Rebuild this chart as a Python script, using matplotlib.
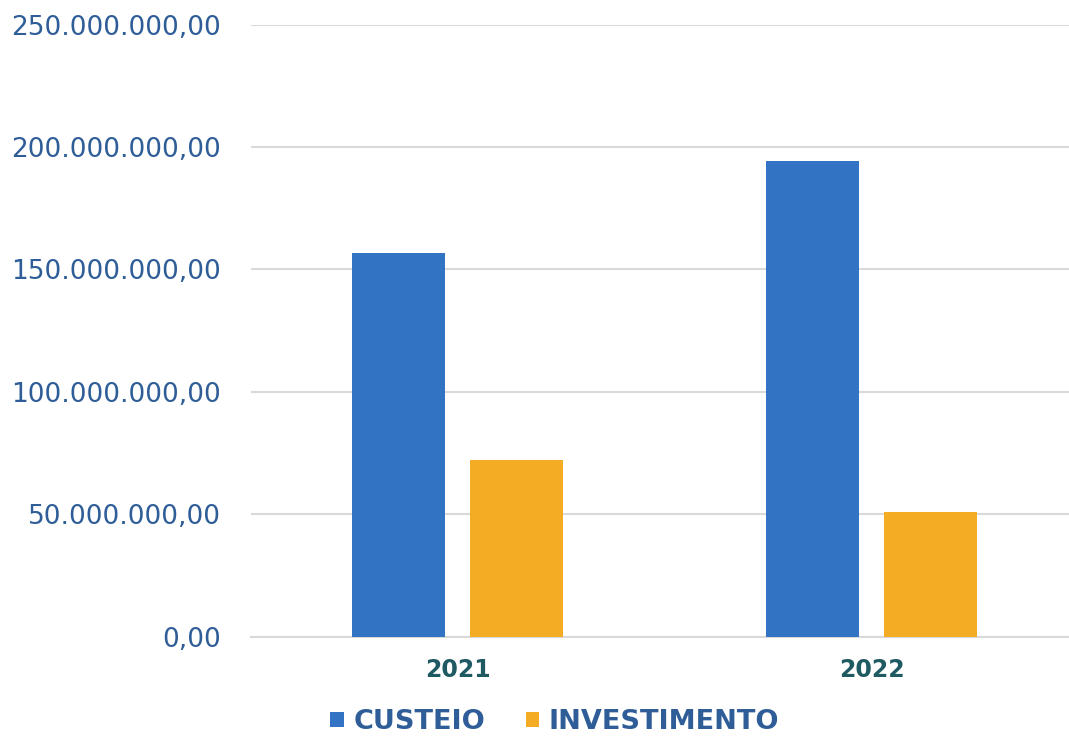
import matplotlib.pyplot as plt
import numpy as np
from matplotlib.ticker import FuncFormatter

# data
years = ["2021", "2022"]
custeio = [156.6e6, 194.4e6]
investimento = [72.1e6, 51.0e6]
series_names = ["CUSTEIO", "INVESTIMENTO"]

blue = "#3373C4"
orange = "#F5AC25"
tick_blue = "#2E5D98"
year_color = "#1F5A62"

def br_fmt(v, pos):
    s = f"{v:,.2f}"
    return s.replace(",", "X").replace(".", ",").replace("X", ".")

fig = plt.figure(figsize=(10.69, 7.38), dpi=100)
ax = fig.add_axes([250.5 / 1069, 0.1369, 828 / 1069, 0.8299])

x = np.arange(len(years))
w = 0.2246
off = 0.1418
ax.bar(x - off, custeio, w, color=blue, label=series_names[0], zorder=3)
ax.bar(x + off, investimento, w, color=orange, label=series_names[1], zorder=3)

ax.set_xlim(-0.5, 1.5)
ax.set_ylim(0, 250e6)
ax.set_yticks(np.arange(0, 250e6 + 1, 50e6))
ax.yaxis.set_major_formatter(FuncFormatter(br_fmt))
ax.grid(axis="y", color="#D9D9D9", linewidth=1.5, zorder=0)
for s in ["top", "right", "left"]:
    ax.spines[s].set_visible(False)
ax.spines["bottom"].set_color("#D9D9D9")
ax.spines["bottom"].set_linewidth(1.5)

ax.set_xticks(x)
ax.set_xticklabels(years, fontsize=17, fontweight="bold", color=year_color)
ax.tick_params(axis="x", length=0, pad=15)
ax.tick_params(axis="y", length=0, labelsize=19, labelcolor=tick_blue, pad=21)

fig.legend(loc="center", bbox_to_anchor=(0.519, 1 - 722 / 738), ncol=2, frameon=False,
           prop={"size": 19.5, "weight": "bold"}, labelcolor=tick_blue,
           handlelength=0.5, handleheight=0.5, handletextpad=0.35, columnspacing=1.5)

fig.savefig("out.png", dpi=100)
